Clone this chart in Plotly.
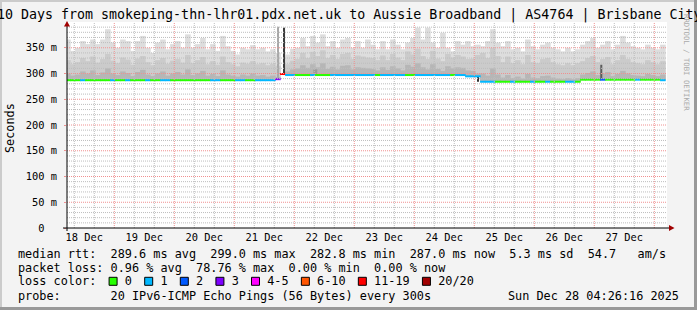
import pandas as pd
import plotly.graph_objects as go

# ---------------- data ----------------
title_text = "10 Days from smokeping-thn-lhr01.pdx.net.uk to Aussie Broadband | AS4764 | Brisbane City"
first_col_start = "2025-12-18 04:26:16"
col_hours = 2
x_range = ["2025-12-18 05:05:00", "2025-12-28 05:05:00"]

median_ms = [
    287, 287, 287, 287, 287, 287, 287, 287, 287, 287, 287, 287, 287, 287, 287,
    287, 287, 287, 287, 287, 287, 287, 287, 287, 287, 287, 287, 287, 287, 287,
    287, 287, 287, 287, 287, 287, 287, 287, 287, 287, 287, 287, 289, 299,
    297, 297, 297, 297, 297, 297, 297, 297, 297, 297, 297, 297, 297, 297, 297,
    297, 297, 297, 297, 297, 297, 297, 297, 297, 297, 297, 297, 297, 297, 297,
    297, 297, 297, 297, 297, 297, 294.5, 294.5, 294.5,
    284, 284, 284, 284, 284, 284, 284, 284, 284, 284, 284, 284, 284, 284, 284,
    284, 284, 284, 284, 284,
    288, 288, 288, 288, 288, 288, 288, 288, 288, 288, 288, 288, 288, 288, 288,
    288, 287,
]

loss_idx = [
    0, 0, 0, 1, 0, 0, 0, 0, 0, 1, 0, 0, 1, 0, 0, 0, 1, 0, 0, 1, 1, 0, 0, 0, 0,
    0, 0, 0, 0, 1, 1, 0, 0, 0, 1, 1, 0, 0, 1, 1, 1, 1, 3, 6,
    1, 1, 0, 0, 0, 1, 0, 0, 0, 1, 1, 1, 1, 1, 1, 1, 1, 1, 0, 1, 1, 1, 1, 1, 0,
    0, 1, 1, 1, 1, 1, 1, 1, 0, 1, 1, 1, 1, 1,
    1, 1, 1, 0, 0, 0, 1, 0, 0, 0, 1, 0, 0, 1, 0, 0, 0, 1, 1, 0,
    0, 0, 0, 0, 2, 0, 0, 0, 0, 0, 0, 1, 0, 0, 0, 0, 1,
]

smoke_top = [
    366, 344, 350, 363, 357, 366, 357, 366, 386, 360, 350, 366, 363, 344, 363,
    373, 350, 340, 360, 366, 347, 357, 363, 350, 376, 350, 357, 369, 347, 357,
    344, 373, 353, 344, 337, 350, 347, 355, 347, 350, 343, 347, 340, 299,
    337, 348, 350, 369, 353, 373, 360, 376, 353, 363, 350, 366, 369, 350, 363,
    350, 366, 356, 347, 363, 347, 366, 356, 347, 360, 369, 389, 366, 389, 360,
    350, 379, 350, 343, 363, 356, 363, 353, 356,
    353, 363, 386, 360, 353, 363, 347, 350, 343, 366, 353, 347, 356, 360, 350,
    347, 343, 350, 343, 347,
    356, 363, 369, 350, 356, 363, 347, 356, 373, 360, 353, 350, 347, 356, 350,
    347, 356,
]

smoke_mid = [
    326, 318, 322, 330, 324, 333, 321, 328, 338, 325, 320, 331, 327, 317, 329,
    334, 322, 316, 326, 330, 319, 325, 328, 321, 336, 320, 326, 332, 318, 324,
    317, 333, 322, 318, 314, 321, 319, 324, 318, 320, 316, 319, 315, 299,
    318, 325, 328, 340, 330, 342, 334, 345, 330, 336, 328, 338, 340, 328, 335,
    333, 331, 330, 326, 335, 326, 338, 331, 326, 343, 337, 348, 334, 328, 344,
    329, 324, 338, 331, 336, 333, 328, 329, 336,
    340, 330, 350, 334, 322, 333, 320, 326, 318, 336, 322, 320, 328, 330, 322,
    318, 316, 320, 316, 320,
    324, 330, 334, 322, 328, 332, 318, 326, 336, 328, 322, 320, 318, 326, 322,
    318, 324,
]

smoke_core = [
    300, 296, 298, 304, 300, 306, 297, 302, 310, 300, 297, 304, 301, 295, 303,
    307, 298, 295, 300, 304, 296, 300, 303, 298, 308, 297, 300, 305, 296, 299,
    295, 306, 298, 296, 294, 298, 296, 300, 296, 297, 294, 296, 293, 299,
    304, 308, 310, 316, 311, 318, 312, 320, 309, 313, 308, 315, 316, 308, 312,
    311, 310, 309, 306, 312, 307, 314, 310, 306, 317, 313, 320, 312, 308, 318,
    309, 305, 314, 310, 312, 311, 306, 305, 300,
    300, 296, 310, 298, 292, 297, 291, 294, 290, 299, 292, 291, 295, 296, 292,
    290, 289, 291, 289, 291,
    298, 301, 304, 297, 300, 303, 295, 299, 305, 300, 297, 296, 295, 299, 297,
    295, 298,
]

# narrow single-sample smoke columns
spike_time = ["2025-12-21 17:24", "2025-12-21 20:00", "2025-12-22 08:24",
              "2025-12-25 01:36", "2025-12-27 02:48"]
spike_low = [288, 297, 298, 284, 288]
spike_high = [391, 389, 308, 295, 317]

loss_labels = ["0", "1", "2", "3", "4-5", "6-10", "11-19", "20/20"]
day_label_times = ["2025-12-%02d 12:00" % d for d in range(18, 28)]
day_labels = ["%d Dec" % d for d in range(18, 28)]
y_tick_vals = [0, 50, 100, 150, 200, 250, 300, 350]
y_tick_text = ["0\u00a0\u00a0", "50 m", "100 m", "150 m", "200 m", "250 m", "300 m", "350 m"]

stat_rows = [
    "median rtt:  289.6 ms avg  299.0 ms max  282.8 ms min  287.0 ms now  5.3 ms sd  54.7   am/s",
    "packet loss: 0.96 % avg  78.76 % max  0.00 % min  0.00 % now",
]
probe_text = "probe:       20 IPv6-ICMP Echo Pings (56 Bytes) every 300s"
stamp_text = "Sun Dec 28 04:26:16 2025"
watermark = "RRDTOOL / TOBI OETIKER"

# ---------------- styles ----------------
FONT = "DejaVu Sans Mono"
loss_colors = ["#26ff00", "#00b8ff", "#0059ff", "#7e00ff", "#ff00ff", "#ff5500", "#ff0000", "#a10000"]
smoke_colors = ["#dddddd", "#cbcbcb", "#b6b6b6"]
spike_colors = ["#a8a8a8", "#3c3c3c", "#9a9a9a", "#333333", "#5a5a5a"]
spike_width_h = [0.4, 0.6, 1.6, 0.4, 0.8]
GRID_MINOR = "#bdbdbd"
GRID_MAJOR = "#f09090"
W, H = 697, 310
PL, PR, PT, PB = 67, 667, 22, 228
ADV = 11.83 * 0.602


def px(xp):
    return (xp - PL) / (PR - PL)


def py(yp):
    return (PB - yp) / (PB - PT)


centers = pd.date_range(first_col_start, periods=len(median_ms), freq="%dh" % col_hours) + pd.Timedelta(hours=col_hours / 2)
col_w = col_hours * 3600 * 1000 * 1.12

fig = go.Figure()
for top, colr in zip([smoke_top, smoke_mid, smoke_core], smoke_colors):
    fig.add_trace(go.Bar(
        x=centers, base=median_ms, y=[t - m for t, m in zip(top, median_ms)],
        width=col_w, marker=dict(color=colr, line=dict(width=0)), hoverinfo="skip"))

fig.add_trace(go.Bar(
    x=pd.to_datetime(spike_time), base=spike_low,
    y=[h - l for h, l in zip(spike_high, spike_low)],
    width=[w * 3600 * 1000 for w in spike_width_h],
    marker=dict(color=spike_colors, line=dict(width=0)), hoverinfo="skip"))

line_ms = 3.9
fig.add_trace(go.Bar(
    x=centers, base=[m - line_ms / 2 for m in median_ms], y=[line_ms] * len(median_ms),
    width=col_w, marker=dict(color=[loss_colors[i] for i in loss_idx], line=dict(width=0)),
    hoverinfo="skip"))

shapes = []
# grid (drawn above the smoke, like rrdtool)
for v in range(10, 400, 10):
    shapes.append(dict(type="line", xref="paper", yref="y", x0=0, x1=1, y0=v, y1=v, layer="above",
                       line=dict(color=GRID_MAJOR if v % 50 == 0 else GRID_MINOR, width=1, dash="1px,1px")))
for t in pd.date_range("2025-12-18 08:00", "2025-12-28 00:00", freq="8h"):
    shapes.append(dict(type="line", xref="x", yref="paper", x0=t, x1=t, y0=0, y1=1, layer="above",
                       line=dict(color=GRID_MAJOR if t.hour == 0 else GRID_MINOR, width=1, dash="1px,1px")))

# axes with arrows
shapes.append(dict(type="line", xref="paper", yref="paper", x0=px(63), x1=px(670), y0=py(228), y1=py(228),
                   line=dict(color="black", width=1)))
shapes.append(dict(type="line", xref="paper", yref="paper", x0=px(67), x1=px(67), y0=py(231), y1=py(25),
                   line=dict(color="black", width=1)))
shapes.append(dict(type="path", xref="paper", yref="paper",
                   path="M %f,%f L %f,%f L %f,%f Z" % (px(669), py(225), px(674.5), py(228), px(669), py(231)),
                   fillcolor="#a00000", line=dict(width=0)))
shapes.append(dict(type="path", xref="paper", yref="paper",
                   path="M %f,%f L %f,%f L %f,%f Z" % (px(64), py(26.5), px(67), py(21), px(70), py(26.5)),
                   fillcolor="#a00000", line=dict(width=0)))

# frame shading
shapes.append(dict(type="rect", xref="paper", yref="paper", x0=px(0), x1=px(697), y0=py(0), y1=py(2),
                   fillcolor="#cbcbcb", line=dict(width=0)))
shapes.append(dict(type="rect", xref="paper", yref="paper", x0=px(0), x1=px(2), y0=py(0), y1=py(310),
                   fillcolor="#cbcbcb", line=dict(width=0)))
shapes.append(dict(type="rect", xref="paper", yref="paper", x0=px(694), x1=px(697), y0=py(0), y1=py(310),
                   fillcolor="#999999", line=dict(width=0)))
shapes.append(dict(type="rect", xref="paper", yref="paper", x0=px(0), x1=px(697), y0=py(307), y1=py(310),
                   fillcolor="#999999", line=dict(width=0)))

annotations = []


def txt(s, xp, yp, size, xanchor="left", yanchor="middle", color="black", angle=0):
    annotations.append(dict(text=s.replace(" ", "\u00a0"), x=px(xp), y=py(yp), xref="paper", yref="paper",
                            xanchor=xanchor, yanchor=yanchor, showarrow=False, textangle=angle,
                            font=dict(family=FONT, size=size, color=color)))


txt(title_text, 348.5, 15.5, 13.3, xanchor="center")
txt("Seconds", 10, 128, 11.83, xanchor="center", angle=-90)
txt(watermark, 687, 62, 7.3, xanchor="center", color="#aaaaaa", angle=90)

row_y = [254.3, 268.3, 281.3, 295.7]
txt(stat_rows[0], 16, row_y[0], 11.83)
txt(stat_rows[1], 16, row_y[1], 11.83)

loss_row = "loss color:  "
col = 13
for lab, colr in zip(loss_labels, loss_colors):
    left = 16 + col * ADV
    shapes.append(dict(type="rect", xref="paper", yref="paper", x0=px(left + 0.5), x1=px(left + 8.5),
                       y0=py(row_y[2] - 4), y1=py(row_y[2] + 4), fillcolor=colr,
                       line=dict(color="black", width=1)))
    loss_row += "  " + lab + "  "
    col += 4 + len(lab)
txt(loss_row, 16, row_y[2], 11.83)
txt(probe_text, 16, row_y[3], 11.83)
txt(stamp_text, 681, row_y[3], 11.83, xanchor="right")

fig.update_layout(
    width=W, height=H, margin=dict(l=PL, r=W - PR, t=PT, b=H - PB),
    paper_bgcolor="#f3f3f3", plot_bgcolor="white", showlegend=False, barmode="overlay",
    shapes=shapes, annotations=annotations,
    xaxis=dict(type="date", range=x_range, showgrid=False, zeroline=False, showline=False,
               tickmode="array", tickvals=day_label_times, ticktext=day_labels, ticks="",
               tickfont=dict(family=FONT, size=10.35, color="black"), ticklabelstandoff=2),
    yaxis=dict(range=[0, 400], showgrid=False, zeroline=False, showline=False,
               tickmode="array", tickvals=y_tick_vals, ticktext=y_tick_text,
               ticks="outside", ticklen=2, tickcolor="#f09090",
               tickfont=dict(family=FONT, size=10.35, color="black"), ticklabelstandoff=5),
)

fig.write_html("out.html")
